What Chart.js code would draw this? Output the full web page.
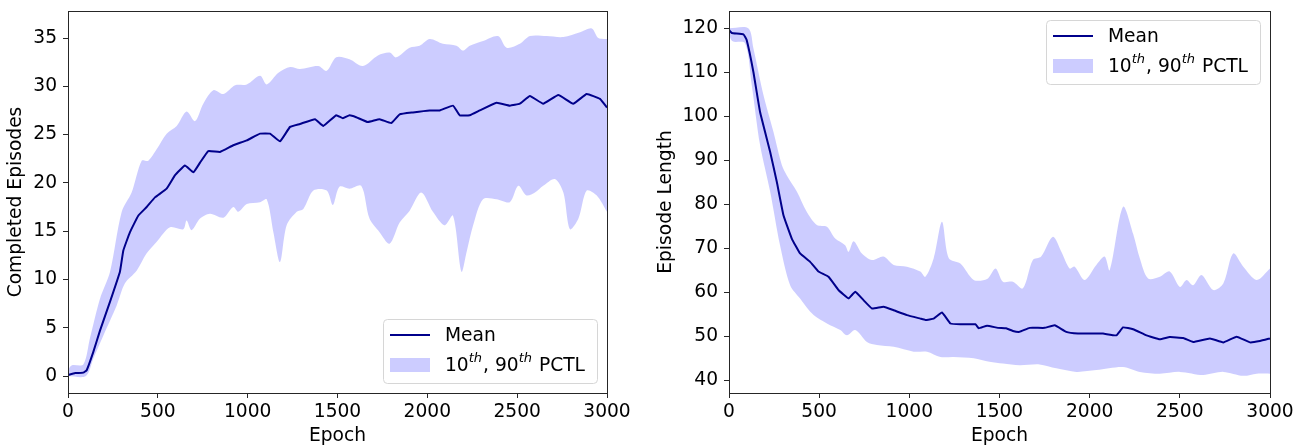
<!DOCTYPE html>
<html>
<head>
<meta charset="utf-8">
<script src="https://cdn.jsdelivr.net/npm/chart.js@4.4.1/dist/chart.umd.min.js"></script>
<style>
  html, body { margin: 0; padding: 0; background: #fff; }
  .panel { position: absolute; top: 0; height: 448px; }
  #leftBox { left: 0; width: 640px; }
  #rightBox { left: 640px; width: 668px; }
</style>
</head>
<body>
<div class="panel" id="leftBox"><canvas id="episodesChart"></canvas></div>
<div class="panel" id="rightBox"><canvas id="lengthChart"></canvas></div>
<script>
// Epoch ticks shared by both panels
const epochTicks = [0, 500, 1000, 1500, 2000, 2500, 3000];

// Left panel: completed episodes, [epoch, value]
const episodesTicks = [0, 5, 10, 15, 20, 25, 30, 35];
const episodesMean = [
  [0, 0.1], [40, 0.3], [85, 0.35], [104, 0.6], [141, 2.5], [178, 4.7], [234, 7.7], [289, 10.8],
  [308, 13], [345, 14.9], [391, 16.6], [438, 17.5], [484, 18.5], [549, 19.4], [596, 20.8],
  [651, 21.8], [698, 21.1], [735, 22.1], [781, 23.3], [846, 23.2], [920, 23.9], [995, 24.4],
  [1069, 25.1], [1124, 25.1], [1180, 24.3], [1236, 25.8], [1291, 26.1], [1375, 26.6], [1421, 25.9],
  [1493, 27], [1530, 26.7], [1567, 27], [1604, 26.8], [1669, 26.3], [1734, 26.6], [1799, 26.2],
  [1846, 27.1], [1920, 27.3], [2013, 27.5], [2069, 27.5], [2143, 28], [2180, 27], [2236, 27],
  [2292, 27.5], [2385, 28.3], [2459, 28], [2515, 28.2], [2571, 29], [2645, 28.2], [2729, 29.1],
  [2812, 28.2], [2887, 29.2], [2961, 28.7], [3000, 27.8]
];
const episodesP90 = [
  [0, 0.6], [20, 1.1], [85, 1.2], [122, 3.9], [178, 8.0], [234, 10.8], [299, 17], [354, 19],
  [410, 22.3], [447, 22.3], [494, 23.5], [549, 25.1], [605, 25.9], [660, 27.4], [707, 26.4],
  [753, 28.2], [809, 29.6], [865, 29.2], [930, 30.1], [995, 30.2], [1069, 31.1], [1106, 30.2],
  [1171, 31.4], [1236, 32.0], [1291, 31.8], [1393, 32.1], [1440, 31.6], [1493, 33], [1567, 32.8],
  [1641, 32.1], [1725, 33.2], [1790, 33.5], [1827, 33], [1901, 34], [1957, 34.2], [2013, 34.9],
  [2087, 34.4], [2162, 34.2], [2199, 33.7], [2236, 34.2], [2310, 34.7], [2394, 35.2], [2441, 34],
  [2515, 34.4], [2571, 35.2], [2664, 35.2], [2757, 35.1], [2850, 35.6], [2915, 36], [2952, 35],
  [3000, 34.9]
];
const episodesP10 = [
  [0, 0], [100, 0], [141, 1.8], [197, 4.2], [271, 7.3], [317, 9.6], [382, 10.9], [438, 12.7],
  [494, 13.9], [568, 15.4], [642, 15.2], [660, 16.1], [688, 15.1], [735, 16.3], [790, 16.8],
  [865, 16.4], [920, 17.5], [948, 17], [995, 17.8], [1069, 18], [1106, 18.3], [1143, 14.9],
  [1180, 11.8], [1217, 15.6], [1273, 17], [1310, 17.3], [1366, 19.2], [1440, 19.2], [1474, 17.7],
  [1511, 19.6], [1567, 19.4], [1632, 19.7], [1678, 16.3], [1734, 14.9], [1790, 13.7], [1846, 15.9],
  [1901, 17.1], [1966, 19], [2031, 17], [2096, 15.6], [2143, 16.6], [2190, 10.8], [2218, 12.8],
  [2255, 15.6], [2310, 18.3], [2385, 18.3], [2459, 18], [2506, 19.7], [2552, 18.7], [2599, 19],
  [2645, 19.7], [2710, 20.4], [2757, 19], [2794, 15.2], [2841, 16.3], [2887, 19.2], [2943, 18.7],
  [3000, 17]
];

// Right panel: episode length, [epoch, value]
const lengthTicks = [40, 50, 60, 70, 80, 90, 100, 110, 120];
const lengthMean = [
  [0, 119.6], [15, 118.9], [80, 118.6], [98, 117.3], [135, 110.1], [172, 101], [228, 91.9],
  [265, 85.1], [302, 77.5], [348, 72.2], [394, 68.8], [450, 66.9], [496, 64.7], [552, 63.5],
  [607, 60.5], [663, 58.6], [700, 60.1], [746, 58.2], [793, 56.3], [857, 56.7], [913, 55.9],
  [987, 54.8], [1061, 54], [1089, 53.7], [1135, 54], [1181, 55.4], [1228, 52.9], [1283, 52.7],
  [1367, 52.7], [1385, 51.8], [1431, 52.4], [1491, 51.9], [1537, 51.8], [1574, 51.2], [1611, 51],
  [1667, 51.9], [1750, 51.9], [1806, 52.5], [1870, 51], [1935, 50.6], [2000, 50.6], [2074, 50.6],
  [2148, 50.2], [2185, 52], [2241, 51.6], [2315, 50.2], [2389, 49.3], [2444, 49.8], [2519, 49.6],
  [2574, 48.7], [2667, 49.5], [2741, 48.6], [2815, 49.9], [2889, 48.6], [2944, 48.9], [3000, 49.5]
];
const lengthP90 = [
  [0, 120], [107, 120], [135, 115.5], [191, 104.8], [246, 96.5], [293, 88.9], [320, 86.6],
  [376, 82.9], [431, 78.3], [487, 75.3], [543, 74.9], [589, 72.2], [644, 70.7], [663, 69.2],
  [691, 71.6], [737, 68.8], [793, 67.3], [857, 68.1], [913, 66.2], [987, 65.8], [1061, 64.7],
  [1089, 63.5], [1135, 67.7], [1181, 76], [1219, 67.7], [1283, 66.5], [1357, 62.8], [1431, 63],
  [1478, 65.4], [1519, 62.4], [1574, 62.4], [1630, 60.9], [1685, 67.3], [1731, 68.1], [1796, 72.6],
  [1843, 69.2], [1889, 65.4], [1917, 65.8], [1972, 62.8], [2037, 66.2], [2083, 68.1], [2111, 65],
  [2185, 79.4], [2241, 73.3], [2278, 67.7], [2324, 63.1], [2389, 63.5], [2444, 64.7], [2500, 61.2],
  [2537, 62.8], [2574, 61.6], [2620, 63.9], [2685, 60.5], [2741, 62], [2796, 68.8], [2852, 65.8],
  [2926, 62.8], [3000, 65.4]
];
const lengthP10 = [
  [0, 118.5], [20, 117], [89, 116.6], [126, 107.1], [172, 93.5], [228, 82.9], [283, 70.7],
  [339, 61.6], [394, 58.6], [469, 54.8], [543, 52.9], [617, 51.4], [654, 50.2], [700, 51.4],
  [765, 48.7], [820, 48], [913, 47.6], [1024, 46.5], [1098, 46.5], [1172, 45.3], [1246, 45.3],
  [1357, 45], [1444, 44.2], [1519, 43.8], [1611, 43.4], [1722, 43.6], [1815, 42.7], [1926, 41.9],
  [2037, 42.3], [2185, 43], [2278, 41.9], [2389, 41.5], [2500, 41.9], [2630, 41.2], [2741, 41.9],
  [2852, 41], [2926, 41.5], [3000, 41.5]
];

const FONT = 'DejaVu Sans';
const FONT_SIZE = 18.67;
const meanColor = '#00008b';
const bandColor = 'rgba(0, 0, 255, 0.2)';
const spineColor = '#262626';

function toPoints(arr) {
  return arr.map(p => ({ x: p[0], y: p[1] }));
}

// Draws the top/right spines plus a matplotlib style legend
const framePlugin = {
  id: 'pctlLegend',
  afterDraw(chart, args, opts) {
    const ctx = chart.ctx;
    const a = chart.chartArea;
    ctx.save();
    ctx.strokeStyle = spineColor;
    ctx.lineWidth = 1;
    ctx.strokeRect(Math.round(a.left) + 0.5, Math.round(a.top) + 0.5,
      Math.round(a.right - a.left), Math.round(a.bottom - a.top));

    // legend box
    const w = 214, h = 64;
    const bx = Math.round(a.right - 10 - w);
    const by = Math.round(opts.corner === 'top' ? a.top + 9 : a.bottom - 10 - h);
    ctx.beginPath();
    ctx.roundRect(bx + 0.5, by + 0.5, w, h, 4);
    ctx.fillStyle = 'rgba(255,255,255,0.8)';
    ctx.fill();
    ctx.strokeStyle = '#d6d6d6';
    ctx.stroke();

    // mean sample
    ctx.strokeStyle = meanColor;
    ctx.lineWidth = 2;
    ctx.beginPath();
    ctx.moveTo(bx + 7, by + 16);
    ctx.lineTo(bx + 47, by + 16);
    ctx.stroke();
    // band sample
    ctx.fillStyle = bandColor;
    ctx.fillRect(bx + 7, by + 39, 40, 14);

    ctx.fillStyle = '#000';
    ctx.textBaseline = 'middle';
    ctx.textAlign = 'left';
    const big = FONT_SIZE + 'px "' + FONT + '"';
    const sup = 'italic 13px "' + FONT + '"';
    ctx.font = big;
    ctx.fillText('Mean', bx + 62, by + 17);

    let tx = bx + 62;
    const ty = by + 47;
    const parts = [['10', big, 0], ['th', sup, -7], [', 90', big, 0], ['th', sup, -7], [' PCTL', big, 0]];
    parts.forEach(p => {
      ctx.font = p[1];
      ctx.fillText(p[0], tx, ty + p[2]);
      tx += ctx.measureText(p[0]).width + (p[2] ? 1 : 0);
    });
    ctx.restore();
  }
};

function makeChart(canvasId, cfg) {
  const ctx = document.getElementById(canvasId).getContext('2d');
  return new Chart(ctx, {
    type: 'line',
    data: {
      datasets: [
        {
          label: 'Mean',
          data: toPoints(cfg.mean),
          borderColor: meanColor,
          borderWidth: 2,
          pointRadius: 0,
          tension: 0.1,
          fill: false
        },
        {
          label: '90th',
          data: toPoints(cfg.p90),
          borderWidth: 0,
          borderColor: 'rgba(0,0,0,0)',
          backgroundColor: bandColor,
          pointRadius: 0,
          tension: 0.3,
          fill: '+1'
        },
        {
          label: '10th',
          data: toPoints(cfg.p10),
          borderWidth: 0,
          borderColor: 'rgba(0,0,0,0)',
          pointRadius: 0,
          tension: 0.3,
          fill: false
        }
      ]
    },
    options: {
      responsive: true,
      maintainAspectRatio: false,
      animation: false,
      layout: { padding: { top: 11, right: cfg.padRight, left: 0, bottom: 0 } },
      scales: {
        x: {
          type: 'linear',
          min: 0,
          max: 3000,
          afterBuildTicks: s => { s.ticks = epochTicks.map(v => ({ value: v })); },
          afterFit: s => { s.height = 55; s.paddingLeft = 0; s.paddingRight = 0; },
          grid: { drawOnChartArea: false, drawTicks: true, tickLength: 5, tickColor: spineColor },
          border: { display: true, color: spineColor, width: 1 },
          ticks: {
            color: '#000', padding: 3, maxRotation: 0,
            font: { family: FONT, size: FONT_SIZE },
            callback: v => String(v)
          },
          title: { display: true, text: 'Epoch', color: '#000', font: { family: FONT, size: FONT_SIZE }, padding: { top: 0, bottom: 1 } }
        },
        y: {
          type: 'linear',
          min: cfg.yMin,
          max: cfg.yMax,
          afterBuildTicks: s => { s.ticks = cfg.yTicks.map(v => ({ value: v })); },
          afterFit: s => { s.width = cfg.yWidth; s.paddingTop = 0; s.paddingBottom = 0; },
          grid: { drawOnChartArea: false, drawTicks: true, tickLength: 5, tickColor: spineColor },
          border: { display: true, color: spineColor, width: 1 },
          ticks: {
            color: '#000', padding: 6,
            font: { family: FONT, size: FONT_SIZE },
            callback: v => String(v)
          },
          title: { display: true, text: cfg.yTitle, color: '#000', font: { family: FONT, size: FONT_SIZE }, padding: { top: cfg.titlePad, bottom: 0 } }
        }
      },
      plugins: {
        legend: { display: false },
        tooltip: { enabled: false },
        pctlLegend: { corner: cfg.corner }
      }
    },
    plugins: [framePlugin]
  });
}

makeChart('episodesChart', {
  mean: episodesMean, p90: episodesP90, p10: episodesP10,
  yTicks: episodesTicks, yMin: -1.76, yMax: 37.8, yTitle: 'Completed Episodes',
  yWidth: 68, padRight: 33, titlePad: 5, corner: 'bottom'
});

makeChart('lengthChart', {
  mean: lengthMean, p90: lengthP90, p10: lengthP10,
  yTicks: lengthTicks, yMin: 37.1, yMax: 123.9, yTitle: 'Episode Length',
  yWidth: 89, padRight: 38, titlePad: 15, corner: 'top'
});
</script>
</body>
</html>
